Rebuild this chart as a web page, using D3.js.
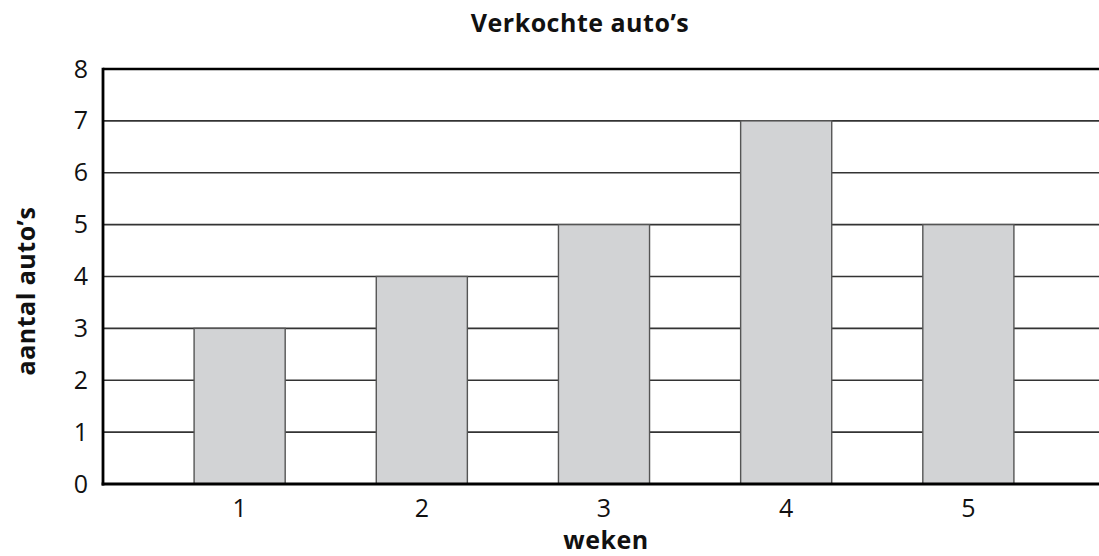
<!DOCTYPE html>
<html>
<head>
<meta charset="utf-8">
<script src="https://cdn.jsdelivr.net/npm/d3@7"></script>
<style>
  html, body { margin: 0; padding: 0; background: #fff; }
  svg { display: block; }
  text { font-family: "Open Sans", "Noto Sans", sans-serif; fill: #111; }
</style>
</head>
<body>
<svg id="chart" width="1099" height="556"></svg>
<script>
// Verkochte auto's per week
const weeks = ["1", "2", "3", "4", "5"];
const cars = [3, 4, 5, 7, 5];
const yTicks = [0, 1, 2, 3, 4, 5, 6, 7, 8];

const title = "Verkochte auto\u2019s";
const xTitle = "weken";
const yTitle = "aantal auto\u2019s";

const svg = d3.select("#chart");
const plotLeft = 103, plotRight = 1105, plotTop = 69, plotBottom = 484;

const x = d3.scaleBand().domain(weeks).range([plotLeft, plotRight])
  .paddingInner(0.5).paddingOuter(0.5);
const y = d3.scaleLinear().domain([0, 8]).range([plotBottom, plotTop]);

// horizontal grid lines
svg.append("g")
  .selectAll("line")
  .data(yTicks.filter(d => d > 0 && d < 8))
  .join("line")
  .attr("x1", plotLeft).attr("x2", plotRight)
  .attr("y1", d => y(d)).attr("y2", d => y(d))
  .attr("stroke", "#333").attr("stroke-width", 1.6);

// bars
svg.append("g")
  .selectAll("rect")
  .data(weeks.map((w, i) => ({ w, v: cars[i] })))
  .join("rect")
  .attr("x", d => x(d.w))
  .attr("width", x.bandwidth())
  .attr("y", d => y(d.v))
  .attr("height", d => y(0) - y(d.v))
  .attr("fill", "#d2d3d5")
  .attr("stroke", "#555")
  .attr("stroke-width", 1.4);

// top border line at 8
svg.append("line")
  .attr("x1", plotLeft).attr("x2", plotRight)
  .attr("y1", y(8)).attr("y2", y(8))
  .attr("stroke", "#000").attr("stroke-width", 2.6);

// y axis
const yAxis = svg.append("g")
  .attr("transform", `translate(${plotLeft},0)`)
  .call(d3.axisLeft(y).tickValues(yTicks).tickSize(0).tickPadding(15).tickFormat(d3.format("d")));
yAxis.select(".domain").attr("stroke", "#000").attr("stroke-width", 2.8)
  .attr("d", `M0,${y(8) - 1.3}V${y(0) + 1.4}`);
yAxis.selectAll("text").attr("font-size", 25).attr("fill", "#111")
  .style("font-family", "'Open Sans', sans-serif");

// x axis
const xAxis = svg.append("g")
  .attr("transform", `translate(0,${plotBottom})`)
  .call(d3.axisBottom(x).tickSize(0).tickPadding(15));
xAxis.select(".domain").attr("stroke", "#000").attr("stroke-width", 2.8)
  .attr("d", `M${plotLeft - 1.4},0H${plotRight}`);
xAxis.selectAll("text").attr("font-size", 25).attr("fill", "#111")
  .style("font-family", "'Open Sans', sans-serif");

// titles
svg.append("text")
  .attr("x", 580).attr("y", 32)
  .attr("text-anchor", "middle")
  .attr("font-size", 25).attr("font-weight", "bold")
  .attr("letter-spacing", 0.5)
  .text(title);

svg.append("text")
  .attr("x", 606).attr("y", 549)
  .attr("text-anchor", "middle")
  .attr("font-size", 25).attr("font-weight", "bold")
  .attr("letter-spacing", 0.5)
  .text(xTitle);

svg.append("text")
  .attr("transform", "translate(35,291) rotate(-90)")
  .attr("text-anchor", "middle")
  .attr("font-size", 25).attr("font-weight", "bold")
  .attr("letter-spacing", 0.5)
  .text(yTitle);
</script>
</body>
</html>
